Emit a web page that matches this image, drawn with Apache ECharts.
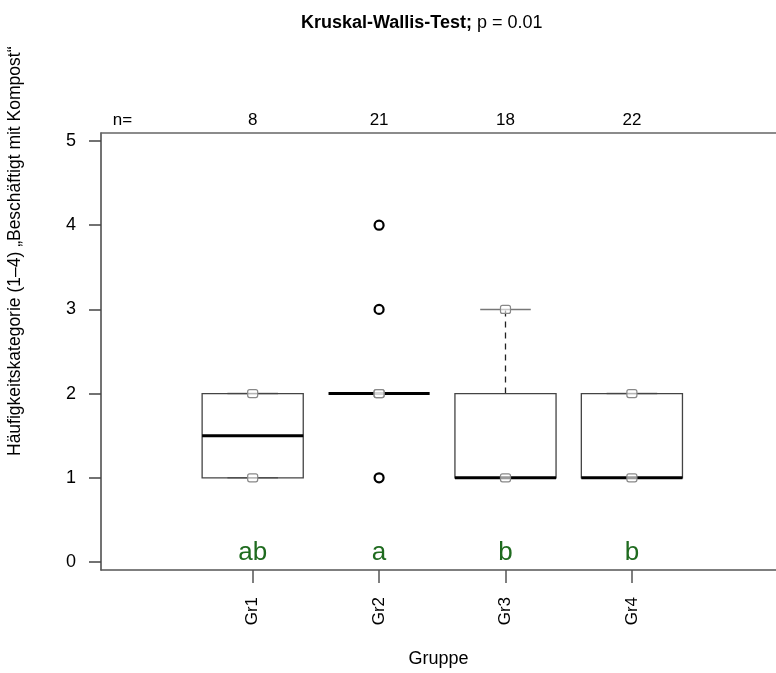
<!DOCTYPE html>
<html>
<head>
<meta charset="utf-8">
<script src="https://cdn.jsdelivr.net/npm/echarts@6/dist/echarts.min.js"></script>
<style>
  html, body { margin: 0; padding: 0; background: #fff; }
  #chart { width: 776px; height: 673px; }
</style>
</head>
<body>
<div id="chart"></div>
<script>
// Gruppen und Kennwerte der Boxplots
var groups = ["Gr1", "Gr2", "Gr3", "Gr4"];
var counts = [8, 21, 18, 22];
var whiskerLow = [1, 2, 1, 1];
var q1 = [1, 2, 1, 1];
var median = [1.5, 2, 1, 1];
var q3 = [2, 2, 2, 2];
var whiskerHigh = [2, 2, 3, 2];
// Ausreisser (Gruppe, Wert)
var outlierGroup = ["Gr2", "Gr2", "Gr2"];
var outlierValue = [1, 3, 4];
// Buchstaben der Post-hoc-Gruppierung
var letters = ["ab", "a", "b", "b"];
var yTicks = [0, 1, 2, 3, 4, 5];

var FONT = "Liberation Sans, Arial, sans-serif";

var chart = echarts.init(document.getElementById("chart"));

var boxData = groups.map(function (g, i) {
  return [i + 1, whiskerLow[i], q1[i], median[i], q3[i], whiskerHigh[i]];
});
var outlierData = outlierGroup.map(function (g, i) {
  return [groups.indexOf(g) + 1, outlierValue[i]];
});
var letterData = letters.map(function (l, i) {
  return [i + 1, 0.11, l];
});

function renderBox(params, api) {
  var x = api.value(0);
  var lo = api.coord([x, api.value(1)]);
  var b1 = api.coord([x, api.value(2)]);
  var md = api.coord([x, api.value(3)]);
  var b3 = api.coord([x, api.value(4)]);
  var hi = api.coord([x, api.value(5)]);
  var left = api.coord([x - 0.4, 0])[0];
  var right = api.coord([x + 0.4, 0])[0];
  var sl = api.coord([x - 0.2, 0])[0];
  var sr = api.coord([x + 0.2, 0])[0];
  var cx = lo[0];
  var kids = [];
  var dash = { stroke: "#222", lineWidth: 1.3, lineDash: [6, 5] };
  if (hi[1] < b3[1]) {
    kids.push({ type: "line", shape: { x1: cx, y1: b3[1], x2: cx, y2: hi[1] }, style: dash });
  }
  if (lo[1] > b1[1]) {
    kids.push({ type: "line", shape: { x1: cx, y1: b1[1], x2: cx, y2: lo[1] }, style: dash });
  }
  // Staples
  [lo[1], hi[1]].forEach(function (yy) {
    kids.push({ type: "line", shape: { x1: sl, y1: yy, x2: sr, y2: yy },
      style: { stroke: "#777", lineWidth: 1.5 } });
  });
  if (b1[1] - b3[1] > 0.5) {
    kids.push({ type: "rect", shape: { x: left, y: b3[1], width: right - left, height: b1[1] - b3[1] },
      style: { fill: "none", stroke: "#444", lineWidth: 1.3 } });
  }
  kids.push({ type: "line", shape: { x1: left, y1: md[1], x2: right, y2: md[1] },
    style: { stroke: "#000", lineWidth: 3 } });
  // kleine Markierungen an den Whisker-Enden
  [lo[1], hi[1]].forEach(function (yy) {
    kids.push({ type: "rect", shape: { x: cx - 5, y: yy - 4, width: 10, height: 8, r: 2 },
      style: { fill: "rgba(255,255,255,0.6)", stroke: "#888", lineWidth: 1.2 } });
  });
  return { type: "group", children: kids };
}

var option = {
  backgroundColor: "#fff",
  animation: false,
  title: {
    text: "{b|Kruskal-Wallis-Test;} {n|p = 0.01}",
    left: 296,
    top: 9,
    textStyle: {
      fontWeight: "normal",
      rich: {
        b: { fontFamily: FONT, fontSize: 18, fontWeight: "bold", color: "#000" },
        n: { fontFamily: FONT, fontSize: 18, fontWeight: "normal", color: "#000" }
      }
    }
  },
  graphic: [{
    type: "text",
    rotation: Math.PI / 2,
    x: 6,
    y: 456,
    style: {
      text: "Häufigkeitskategorie (1–4) „Beschäftigt mit Kompost“",
      font: "17.5px " + FONT,
      fill: "#000"
    }
  }],
  grid: {
    left: 101,
    top: 133,
    right: 0,
    bottom: 103
  },
  xAxis: [{
    type: "value",
    position: "bottom",
    min: -0.2,
    max: 5.14,
    name: "Gruppe",
    nameLocation: "middle",
    nameGap: 80,
    nameTextStyle: { fontFamily: FONT, fontSize: 18, color: "#000" },
    axisLine: { show: true, onZero: false, lineStyle: { color: "#555", width: 1.5 } },
    axisTick: { show: true, length: 13, customValues: [1, 2, 3, 4], lineStyle: { color: "#555", width: 1.5 } },
    axisLabel: {
      customValues: [1, 2, 3, 4],
      rotate: 90,
      margin: 27,
      fontFamily: FONT,
      fontSize: 17,
      color: "#000",
      formatter: function (v) { return groups[Math.round(v) - 1]; }
    },
    splitLine: { show: false }
  }, {
    type: "value",
    position: "top",
    min: -0.2,
    max: 5.14,
    axisLine: { show: true, onZero: false, lineStyle: { color: "#666", width: 1.5 } },
    axisTick: { show: false },
    axisLabel: {
      customValues: [-0.03, 1, 2, 3, 4],
      margin: 4,
      fontFamily: FONT,
      fontSize: 17,
      color: "#000",
      formatter: function (v) {
        var k = Math.round(v);
        return k <= 0 ? "n=" : String(counts[k - 1]);
      }
    },
    splitLine: { show: false }
  }],
  yAxis: {
    type: "value",
    min: -0.095,
    max: 5.095,
    axisLine: { show: true, onZero: false, lineStyle: { color: "#444", width: 1.5 } },
    axisTick: { show: true, length: 12, customValues: yTicks, lineStyle: { color: "#444", width: 1.5 } },
    axisLabel: {
      customValues: yTicks,
      margin: 25,
      fontFamily: FONT,
      fontSize: 18,
      color: "#000"
    },
    splitLine: { show: false }
  },
  series: [{
    type: "custom",
    xAxisIndex: 0,
    renderItem: renderBox,
    data: boxData,
    z: 2
  }, {
    type: "scatter",
    xAxisIndex: 0,
    data: outlierData,
    symbol: "circle",
    symbolSize: 9,
    itemStyle: { color: "#fff", borderColor: "#000", borderWidth: 2.2, opacity: 1 },
    z: 3
  }, {
    type: "scatter",
    xAxisIndex: 0,
    data: letterData,
    symbolSize: 0,
    itemStyle: { opacity: 1 },
    label: {
      show: true,
      position: "inside",
      formatter: function (p) { return p.value[2]; },
      fontFamily: FONT,
      fontSize: 26,
      color: "#1f6b1f"
    },
    z: 4
  }]
};

chart.setOption(option);
window.addEventListener("resize", function () { chart.resize(); });
</script>
</body>
</html>
